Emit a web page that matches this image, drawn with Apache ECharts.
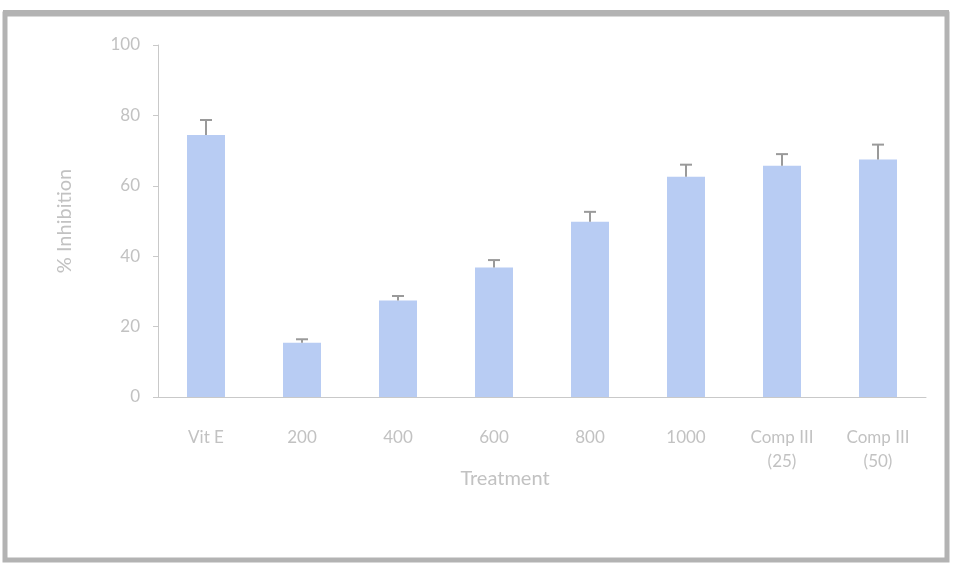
<!DOCTYPE html>
<html>
<head>
<meta charset="utf-8">
<script src="https://cdn.jsdelivr.net/npm/echarts@6/dist/echarts.min.js"></script>
<style>
  html, body { margin: 0; padding: 0; background: #fff; }
  #chart { width: 954px; height: 565px; }
</style>
</head>
<body>
<div id="chart"></div>
<script>
// Treatment groups and mean % inhibition with upper error (SD)
const categories = ['Vit E', '200', '400', '600', '800', '1000', 'Comp III\n(25)', 'Comp III\n(50)'];
const inhibition = [74.4, 15.4, 27.4, 36.8, 49.8, 62.6, 65.7, 67.5];
const errors = [4.3, 1.0, 1.3, 2.1, 2.8, 3.4, 3.3, 4.2];
const yTicks = { min: 0, max: 100, interval: 20 };

const textColor = '#c2c2c2';
const axisColor = '#c9c9c9';
const fontFamily = 'Lato, "Open Sans", sans-serif';

const chart = echarts.init(document.getElementById('chart'));

chart.setOption({
  backgroundColor: '#fff',
  animation: false,
  graphic: [
    {
      type: 'rect',
      shape: { x: 5, y: 14, width: 942, height: 546 },
      style: { fill: 'none', stroke: '#b3b3b3', lineWidth: 5 },
      silent: true
    },
    {
      type: 'rect',
      shape: { x: 3, y: 10, width: 946, height: 6 },
      style: { fill: '#b3b3b3' },
      silent: true
    }
  ],
  grid: { left: 158, right: 28, top: 45, bottom: 168 },
  xAxis: {
    type: 'category',
    data: categories,
    name: 'Treatment',
    nameLocation: 'middle',
    nameGap: 72,
    nameMoveOverlap: false,
    nameTextStyle: {
      color: textColor, fontSize: 20, fontFamily: fontFamily,
      padding: [0, 74, 0, 0]
    },
    axisLine: { lineStyle: { color: axisColor, width: 1 } },
    axisTick: { lineStyle: { color: axisColor }, length: 5 },
    axisLabel: {
      color: textColor, fontSize: 17, fontFamily: fontFamily,
      margin: 29, lineHeight: 24, interval: 0
    }
  },
  yAxis: {
    type: 'value',
    min: yTicks.min,
    max: yTicks.max,
    interval: yTicks.interval,
    name: '% Inhibition',
    nameLocation: 'middle',
    nameGap: 83,
    nameTextStyle: { color: textColor, fontSize: 20, fontFamily: fontFamily },
    axisLine: { show: true, lineStyle: { color: axisColor, width: 1 } },
    axisTick: { show: true, lineStyle: { color: axisColor }, length: 5 },
    splitLine: { show: false },
    axisLabel: { color: textColor, fontSize: 17, fontFamily: fontFamily, margin: 18 }
  },
  series: [
    {
      type: 'bar',
      data: inhibition,
      barWidth: 38,
      itemStyle: { color: '#b8ccf3' }
    },
    {
      type: 'custom',
      data: inhibition.map((v, i) => [i, v, v + errors[i]]),
      renderItem: function (params, api) {
        const base = api.coord([api.value(0), api.value(1)]);
        const top = api.coord([api.value(0), api.value(2)]);
        const half = 6;
        const style = { stroke: '#9a9a9a', lineWidth: 2 };
        return {
          type: 'group',
          children: [
            { type: 'line', shape: { x1: base[0], y1: base[1], x2: top[0], y2: top[1] }, style: style },
            { type: 'line', shape: { x1: top[0] - half, y1: top[1], x2: top[0] + half, y2: top[1] }, style: style }
          ]
        };
      },
      z: 3
    }
  ]
});
</script>
</body>
</html>
